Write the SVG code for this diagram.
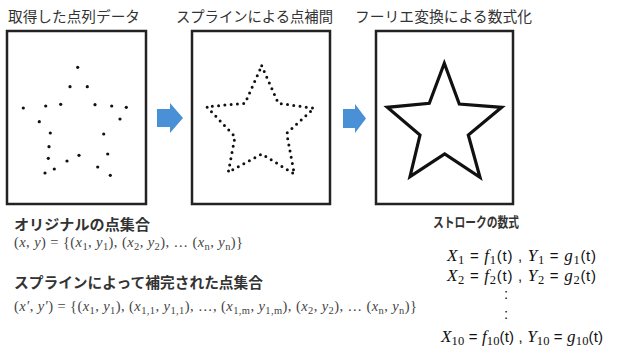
<svg xmlns="http://www.w3.org/2000/svg" width="624" height="354" viewBox="0 0 624 354">
<style>
.title{font-family:"Noto Sans CJK JP","Noto Sans CJK SC",sans-serif;font-size:14.5px;fill:#333}
.lbl{font-family:"Noto Sans CJK JP","Noto Sans CJK SC",sans-serif;font-size:14.5px;font-weight:bold;fill:#333}
.lbl2{font-family:"Noto Sans CJK JP","Noto Sans CJK SC",sans-serif;font-size:13.5px;font-weight:bold;fill:#333}
.box{fill:#fff;stroke:#222;stroke-width:2.5}
.arrow{fill:#4a90d6}
.fm{font-family:"Liberation Serif",serif;font-size:14.5px;fill:#444}
.eq{font-family:"Liberation Serif",serif;font-size:17px;fill:#111}
.it{font-style:italic}
.sans{font-family:"Liberation Sans",sans-serif;font-size:15px}
.sub{font-size:10.5px}
.eqsub{font-size:12.5px}
</style>
<g id="titles">
<text class="title" x="8" y="22" textLength="132" lengthAdjust="spacingAndGlyphs">取得した点列データ</text>
<text class="title" x="176" y="22" textLength="157" lengthAdjust="spacingAndGlyphs">スプラインによる点補間</text>
<text class="title" x="355" y="22" textLength="177" lengthAdjust="spacingAndGlyphs">フーリエ変換による数式化</text>
</g>
<g id="box1">
<rect class="box" x="7" y="31" width="139" height="173"/>
<g fill="#111">
<circle cx="77.7" cy="67.3" r="1.6"/><circle cx="70" cy="86.7" r="1.6"/><circle cx="87.3" cy="86.7" r="1.6"/>
<circle cx="23.3" cy="108" r="1.6"/><circle cx="45.7" cy="106" r="1.6"/><circle cx="60.7" cy="104.3" r="1.6"/>
<circle cx="95" cy="104.7" r="1.6"/><circle cx="111.7" cy="106" r="1.6"/><circle cx="126.3" cy="107.3" r="1.6"/>
<circle cx="39.3" cy="121.7" r="1.6"/><circle cx="120" cy="119" r="1.6"/><circle cx="50.3" cy="133" r="1.6"/>
<circle cx="103.7" cy="134" r="1.6"/><circle cx="49" cy="146.7" r="1.6"/><circle cx="48.3" cy="158.3" r="1.6"/>
<circle cx="67" cy="161" r="1.6"/><circle cx="79" cy="155.3" r="1.6"/><circle cx="107.7" cy="154" r="1.6"/>
<circle cx="45" cy="173" r="1.6"/><circle cx="54.3" cy="169" r="1.6"/><circle cx="97.7" cy="167" r="1.6"/>
<circle cx="110.3" cy="175.3" r="1.6"/>
</g>
</g>
<g id="box2">
<rect class="box" x="192" y="31" width="138" height="173"/>
<path d="M261.7,65.7 L278.3,103.3 L314,108.3 L286.7,133.3 L294.3,174 L261.7,154 L228.3,172.3 L235,136.7 L206.7,106.7 L245,103.3 Z" fill="none" stroke="#111" stroke-width="3" stroke-linecap="round" stroke-dasharray="0 6.3"/>
</g>
<g id="box3">
<rect class="box" x="376" y="31" width="137" height="173"/>
<path d="M444.3,63.3 L459.3,104 L501.7,107.3 L468.3,135 L480,177.3 L444.7,154 L410,176.7 L420,135 L387.3,107.3 L429.3,103.3 Z" fill="none" stroke="#111" stroke-width="3.2" stroke-linejoin="miter"/>
</g>
<g id="connectors">
<path class="arrow" d="M157,109 H170 V103 L183,118 L170,133 V127 H157 Z"/>
<path class="arrow" d="M343,109 H355 V104 L366,118.5 L355,133 V128 H343 Z"/>
</g>
<g id="original-set">
<text class="lbl" x="14" y="229.5" textLength="136" lengthAdjust="spacingAndGlyphs">オリジナルの点集合</text>
<text class="fm" x="14" y="246.5" textLength="229" lengthAdjust="spacing">(<tspan class="it">x</tspan>, <tspan class="it">y</tspan>) = {(<tspan class="it">x</tspan><tspan class="sub" dy="3">1</tspan><tspan dy="-3">, </tspan><tspan class="it">y</tspan><tspan class="sub" dy="3">1</tspan><tspan dy="-3">), (</tspan><tspan class="it">x</tspan><tspan class="sub" dy="3">2</tspan><tspan dy="-3">, </tspan><tspan class="it">y</tspan><tspan class="sub" dy="3">2</tspan><tspan dy="-3">), … (</tspan><tspan class="it">x</tspan><tspan class="sub" dy="3">n</tspan><tspan dy="-3">, </tspan><tspan class="it">y</tspan><tspan class="sub" dy="3">n</tspan><tspan dy="-3">)}</tspan></text>
</g>
<g id="spline-set">
<text class="lbl" x="14" y="288" textLength="249" lengthAdjust="spacingAndGlyphs">スプラインによって補完された点集合</text>
<text class="fm" x="14" y="311" textLength="403" lengthAdjust="spacing">(<tspan class="it">x′</tspan>, <tspan class="it">y′</tspan>) = {(<tspan class="it">x</tspan><tspan class="sub" dy="3">1</tspan><tspan dy="-3">, </tspan><tspan class="it">y</tspan><tspan class="sub" dy="3">1</tspan><tspan dy="-3">), (</tspan><tspan class="it">x</tspan><tspan class="sub" dy="3">1,1</tspan><tspan dy="-3">, </tspan><tspan class="it">y</tspan><tspan class="sub" dy="3">1,1</tspan><tspan dy="-3">), …, (</tspan><tspan class="it">x</tspan><tspan class="sub" dy="3">1,m</tspan><tspan dy="-3">, </tspan><tspan class="it">y</tspan><tspan class="sub" dy="3">1,m</tspan><tspan dy="-3">), (</tspan><tspan class="it">x</tspan><tspan class="sub" dy="3">2</tspan><tspan dy="-3">, </tspan><tspan class="it">y</tspan><tspan class="sub" dy="3">2</tspan><tspan dy="-3">), … (</tspan><tspan class="it">x</tspan><tspan class="sub" dy="3">n</tspan><tspan dy="-3">, </tspan><tspan class="it">y</tspan><tspan class="sub" dy="3">n</tspan><tspan dy="-3">)}</tspan></text>
</g>
<g id="stroke-equations">
<text class="lbl2" x="433" y="227" textLength="86" lengthAdjust="spacingAndGlyphs">ストロークの数式</text>
<text class="eq" x="447" y="261" textLength="149" lengthAdjust="spacing"><tspan class="it">X</tspan><tspan class="eqsub" dy="3">1</tspan><tspan class="sans" dy="-3"> = </tspan><tspan class="it">f</tspan><tspan class="eqsub" dy="3">1</tspan><tspan class="sans" dy="-3">(t) , </tspan><tspan class="it">Y</tspan><tspan class="eqsub" dy="3">1</tspan><tspan class="sans" dy="-3"> =  </tspan><tspan class="it">g</tspan><tspan class="eqsub" dy="3">1</tspan><tspan class="sans" dy="-3">(t)</tspan></text>
<text class="eq" x="447" y="281" textLength="149" lengthAdjust="spacing"><tspan class="it">X</tspan><tspan class="eqsub" dy="3">2</tspan><tspan class="sans" dy="-3"> = </tspan><tspan class="it">f</tspan><tspan class="eqsub" dy="3">2</tspan><tspan class="sans" dy="-3">(t) , </tspan><tspan class="it">Y</tspan><tspan class="eqsub" dy="3">2</tspan><tspan class="sans" dy="-3"> =  </tspan><tspan class="it">g</tspan><tspan class="eqsub" dy="3">2</tspan><tspan class="sans" dy="-3">(t)</tspan></text>
<text class="eq sans" x="504" y="299">:</text>
<text class="eq sans" x="504" y="319">:</text>
<text class="eq" x="441" y="342" textLength="162" lengthAdjust="spacing"><tspan class="it">X</tspan><tspan class="eqsub" dy="3">10</tspan><tspan class="sans" dy="-3"> = </tspan><tspan class="it">f</tspan><tspan class="eqsub" dy="3">10</tspan><tspan class="sans" dy="-3">(t) , </tspan><tspan class="it">Y</tspan><tspan class="eqsub" dy="3">10</tspan><tspan class="sans" dy="-3"> =  </tspan><tspan class="it">g</tspan><tspan class="eqsub" dy="3">10</tspan><tspan class="sans" dy="-3">(t)</tspan></text>
</g>
</svg>
